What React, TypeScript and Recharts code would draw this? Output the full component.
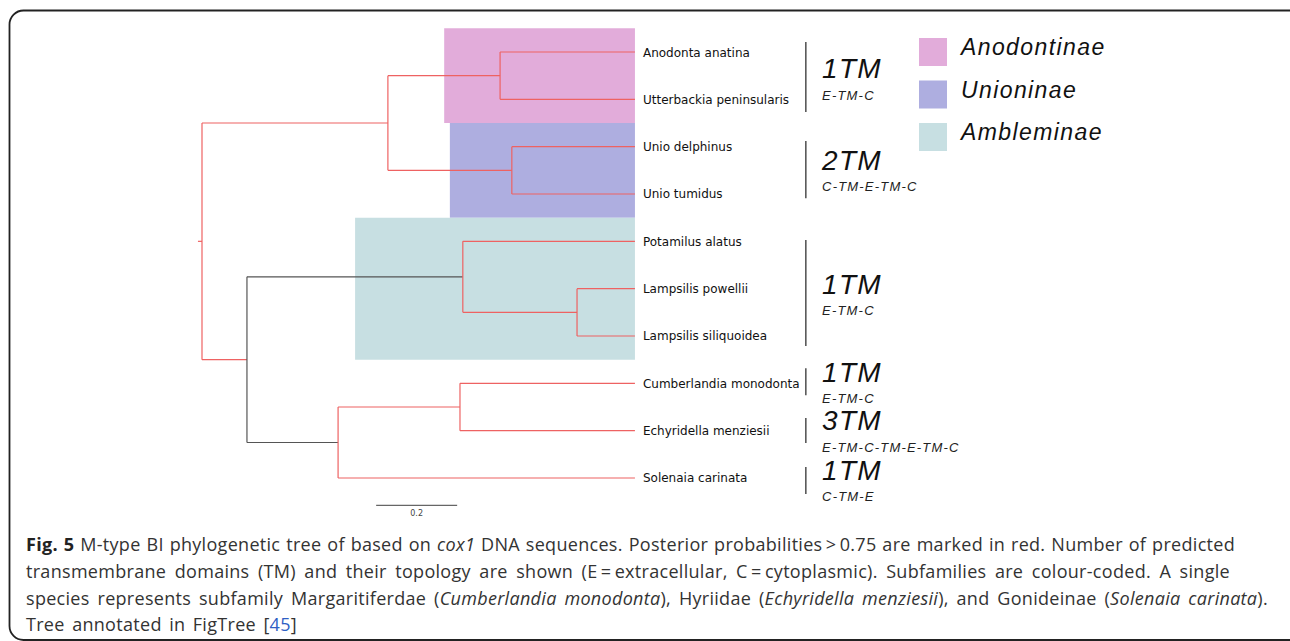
import React from 'react'
import { ComposedChart, XAxis, YAxis, ReferenceArea, ReferenceLine, Scatter } from 'recharts'

const W = 1290
const H = 641

// tree: depths are branch-length units from the root, tips are leaf rows (0 = top)
const tipNames = [
  'Anodonta anatina',
  'Utterbackia peninsularis',
  'Unio delphinus',
  'Unio tumidus',
  'Potamilus alatus',
  'Lampsilis powellii',
  'Lampsilis siliquoidea',
  'Cumberlandia monodonta',
  'Echyridella menziesii',
  'Solenaia carinata',
]
const tipDepths = [1.069, 1.069, 1.069, 1.069, 1.069, 1.069, 1.069, 1.069, 1.069, 1.069]

const nodeNames = ['root', 'A', 'Anod', 'Unio', 'B', 'Amb', 'Lamp', 'D', 'C']
const nodeDepths = [0, 0.459, 0.736, 0.765, 0.111, 0.644, 0.926, 0.336, 0.637]
// numbers are tip rows, strings are internal nodes
const nodeChildren: (string | number)[][] = [
  ['A', 'B'],
  ['Anod', 'Unio'],
  [0, 1],
  [2, 3],
  ['Amb', 'D'],
  [4, 'Lamp'],
  [5, 6],
  ['C', 9],
  [7, 8],
]
// posterior probability > 0.75
const nodeSupported = [true, true, true, true, false, true, true, true, true]
const rootStub = -0.01

const subfamilies = ['Anodontinae', 'Unioninae', 'Ambleminae']
const subfamilyColors = ['#E2ACDA', '#AEAEE0', '#C7DFE2']
const subfamilyStart = [0.598, 0.612, 0.378]
const subfamilyFirstTip = [0, 2, 4]
const subfamilyLastTip = [1, 3, 6]

const tmCounts = ['1TM', '2TM', '1TM', '1TM', '3TM', '1TM']
const tmTopologies = ['E-TM-C', 'C-TM-E-TM-C', 'E-TM-C', 'E-TM-C', 'E-TM-C-TM-E-TM-C', 'C-TM-E']
const tmBarTop = [-0.21, 1.88, 3.97, 6.68, 7.73, 8.77]
const tmBarBottom = [1.27, 3.09, 6.21, 7.25, 8.26, 9.34]
const tmTextRow = [0.55, 2.49, 5.11, 6.97, 7.99, 9.04]

const scaleBarLength = 0.2
const scaleBarLabel = '0.2'

// layout
const ROOT_X = 202
const PX_PER_UNIT = 405
const FIRST_ROW_Y = 52
const ROW_STEP = 47.333
const TM_BAR_X = 1.491
const TM_TEXT_X = 1.531
const SCALE_X = 0.43
const SCALE_ROW = 9.58

const RED = '#EE6262'
const GREY = '#555'

const xDomain = [-ROOT_X / PX_PER_UNIT, (W - ROOT_X) / PX_PER_UNIT]
const yDomain = [-FIRST_ROW_Y / ROW_STEP, (H - FIRST_ROW_Y) / ROW_STEP]

const nodeIndex = (n: string) => nodeNames.indexOf(n)
const childY = (c: string | number): number => (typeof c === 'number' ? c : nodeY(nodeIndex(c)))
const childX = (c: string | number): number => (typeof c === 'number' ? tipDepths[c] : nodeDepths[nodeIndex(c)])
function nodeY(i: number): number {
  const ys = nodeChildren[i].map(childY)
  return (Math.min(...ys) + Math.max(...ys)) / 2
}

type Seg = { x1: number; y1: number; x2: number; y2: number; color: string }
const segments: Seg[] = []
nodeNames.forEach((_, i) => {
  const color = nodeSupported[i] ? RED : GREY
  const ys = nodeChildren[i].map(childY)
  const d = nodeDepths[i]
  segments.push({ x1: d, y1: Math.min(...ys), x2: d, y2: Math.max(...ys), color })
  nodeChildren[i].forEach((c) => {
    segments.push({ x1: d, y1: childY(c), x2: childX(c), y2: childY(c), color })
  })
})
segments.push({ x1: rootStub, y1: nodeY(0), x2: 0, y2: nodeY(0), color: RED })

const tipPoints = tipNames.map((name, i) => ({ x: tipDepths[i], y: i, name }))
const tmPoints = tmCounts.map((count, i) => ({ x: TM_TEXT_X, y: tmTextRow[i], count, topo: tmTopologies[i] }))
const scalePoints = [{ x: SCALE_X + scaleBarLength / 2, y: SCALE_ROW, label: scaleBarLabel }]

const TipLabel = (props: any) => (
  <text x={props.cx + 8} y={props.cy + 4.5} fontFamily="DejaVu Sans" fontSize={12} fill="#111">
    {props.payload.name}
  </text>
)

const TmLabel = (props: any) => (
  <g fontFamily="Liberation Sans" fontStyle="italic" fill="#111">
    <text x={props.cx} y={props.cy} fontSize={28} letterSpacing={1.3}>
      {props.payload.count}
    </text>
    <text x={props.cx} y={props.cy + 21.5} fontSize={13} letterSpacing={1.2} fill="#222">
      {props.payload.topo}
    </text>
  </g>
)

const ScaleLabel = (props: any) => (
  <text x={props.cx} y={props.cy + 11} textAnchor="middle" fontFamily="DejaVu Sans" fontSize={8} fill="#444">
    {props.payload.label}
  </text>
)

const lineStyle = (top: number, width: number): React.CSSProperties => ({
  position: 'absolute',
  left: 26,
  top,
  width,
  whiteSpace: 'nowrap',
  textAlign: 'justify',
  textAlignLast: 'justify',
  lineHeight: '20px',
})

const Frame = () => (
  <svg width={W} height={H} style={{ position: 'absolute', left: 0, top: 0, pointerEvents: 'none' }}>
    <rect x={9.5} y={10.5} width={1300} height={629.5} rx={14} fill="none" stroke="#222" strokeWidth={1.8} />
    {subfamilies.map((s, i) => (
      <g key={s}>
        <rect x={919} y={38 + i * 42.5} width={28} height={28} fill={subfamilyColors[i]} />
        <text
          x={961}
          y={55 + i * 42.5}
          fontFamily="Liberation Sans"
          fontStyle="italic"
          fontSize={23}
          letterSpacing={1.4}
          fill="#111"
        >
          {s}
        </text>
      </g>
    ))}
  </svg>
)

const Caption = () => (
  <div style={{ fontFamily: 'Open Sans', fontSize: 18, letterSpacing: 0.3, color: '#333' }}>
    <div style={lineStyle(534, 1209)}>
      <b style={{ color: '#222' }}>Fig. 5</b> M-type BI phylogenetic tree of based on <i>cox1</i> DNA sequences.
      Posterior probabilities{'\u2009>\u2009'}0.75 are marked in red. Number of predicted
    </div>
    <div style={lineStyle(561, 1204)}>
      transmembrane domains (TM) and their topology are shown (E{'\u2009=\u2009'}extracellular, C{'\u2009=\u2009'}cytoplasmic).
      Subfamilies are colour-coded. A single
    </div>
    <div style={lineStyle(588, 1242)}>
      species represents subfamily Margaritiferdae (<i>Cumberlandia monodonta</i>), Hyriidae (
      <i>Echyridella menziesii</i>), and Gonideinae (<i>Solenaia carinata</i>).
    </div>
    <div style={lineStyle(614, 271)}>
      Tree annotated in FigTree [<span style={{ color: '#2F5FC4' }}>45</span>]
    </div>
  </div>
)

export default function App() {
  return (
    <div style={{ position: 'absolute', left: 0, top: 0, width: W, height: H, background: '#fff' }}>
      <ComposedChart width={W} height={H} margin={{ top: 0, right: 0, bottom: 0, left: 0 }}>
        <XAxis type="number" dataKey="x" domain={xDomain} allowDataOverflow hide />
        <YAxis type="number" dataKey="y" domain={yDomain} allowDataOverflow reversed hide />

        {subfamilies.map((s, i) => (
          <ReferenceArea
            key={s}
            x1={subfamilyStart[i]}
            x2={tipDepths[subfamilyLastTip[i]]}
            y1={subfamilyFirstTip[i] - 0.5}
            y2={subfamilyLastTip[i] + 0.5}
            fill={subfamilyColors[i]}
            fillOpacity={1}
            stroke="none"
            ifOverflow="visible"
          />
        ))}

        {segments.map((s, i) => (
          <ReferenceLine
            key={'b' + i}
            segment={[{ x: s.x1, y: s.y1 }, { x: s.x2, y: s.y2 }]}
            stroke={s.color}
            strokeWidth={1.2}
            ifOverflow="visible"
          />
        ))}

        {tmCounts.map((_, i) => (
          <ReferenceLine
            key={'tm' + i}
            segment={[{ x: TM_BAR_X, y: tmBarTop[i] }, { x: TM_BAR_X, y: tmBarBottom[i] }]}
            stroke="#333"
            strokeWidth={1.3}
            ifOverflow="visible"
          />
        ))}

        <ReferenceLine
          segment={[{ x: SCALE_X, y: SCALE_ROW }, { x: SCALE_X + scaleBarLength, y: SCALE_ROW }]}
          stroke="#666"
          strokeWidth={1.3}
          ifOverflow="visible"
        />

        <Scatter data={tipPoints} shape={TipLabel} isAnimationActive={false} />
        <Scatter data={tmPoints} shape={TmLabel} isAnimationActive={false} />
        <Scatter data={scalePoints} shape={ScaleLabel} isAnimationActive={false} />
      </ComposedChart>
      <Frame />
      <Caption />
    </div>
  )
}
